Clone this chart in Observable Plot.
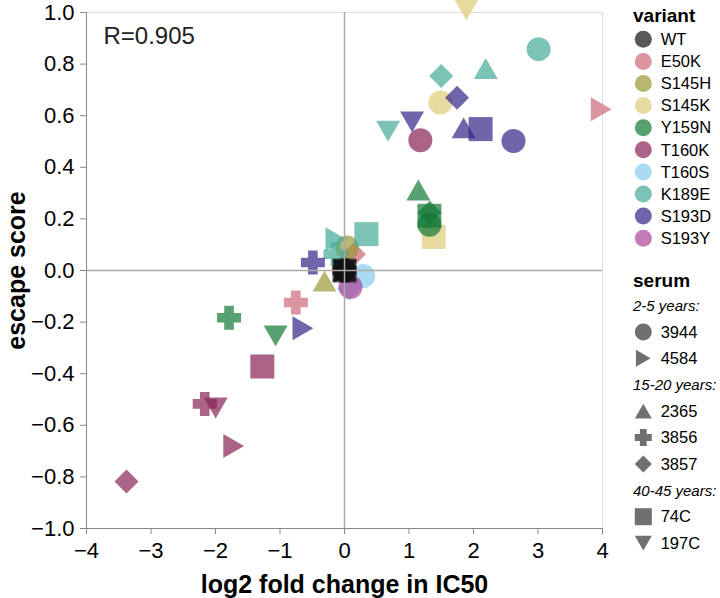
<!DOCTYPE html>
<html>
<head>
<meta charset="utf-8">
<script src="https://cdn.jsdelivr.net/npm/d3@7"></script>
<script src="https://cdn.jsdelivr.net/npm/@observablehq/plot@0.6"></script>
<style>
body { margin: 0; background: #fff; font-family: "Liberation Sans", Arial, Helvetica, sans-serif; }
#wrap { position: relative; width: 720px; height: 598px; }
#chart { position: absolute; left: 0; top: 0; }
#legend { position: absolute; left: 620px; top: 0; }
</style>
</head>
<body>
<div id="wrap"><div id="chart"></div><div id="legend"></div></div>
<script>
// variants (colour) and sera (shape)
const variants = ["WT", "E50K", "S145H", "S145K", "Y159N", "T160K", "T160S", "K189E", "S193D", "S193Y"];
const variantColors = ["#111111", "#CC6677", "#999933", "#DDCC77", "#117733", "#882255", "#88CCEE", "#44AA99", "#332288", "#AA4499"];
const sera = ["3944", "4584", "2365", "3856", "3857", "74C", "197C"];
const serumGroups = [
  ["2-5 years:", ["3944", "4584"]],
  ["15-20 years:", ["2365", "3856", "3857"]],
  ["40-45 years:", ["74C", "197C"]],
];

// [serum, log2 fold change in IC50, escape score] per variant
const ptsWT = [["3944", 0, 0], ["4584", 0, 0], ["2365", 0, 0], ["3856", 0, 0], ["3857", 0, 0], ["74C", 0, 0], ["197C", 0, 0]];
const ptsE50K = [["3857", 0.145, 0.063], ["3856", -0.754, -0.124], ["4584", 3.98, 0.625]];
const ptsS145H = [["3944", 0.04, 0.089], ["2365", -0.31, -0.041]];
const ptsS145K = [["197C", 1.89, 1.01], ["3944", 1.486, 0.651], ["74C", 1.383, 0.130]];
const ptsY159N = [["2365", 1.145, 0.312], ["74C", 1.316, 0.212], ["3857", 1.32, 0.224], ["3944", 1.316, 0.177], ["3856", -1.79, -0.183], ["197C", -1.068, -0.253]];
const ptsT160K = [["3944", 1.176, 0.505], ["74C", -1.274, -0.372], ["3856", -2.167, -0.517], ["197C", -1.997, -0.533], ["4584", -1.718, -0.680], ["3857", -3.38, -0.818]];
const ptsT160S = [["3944", 0.29, -0.021], ["3857", 0.067, -0.071]];
const ptsK189E = [["3944", 3.01, 0.858], ["2365", 2.19, 0.783], ["3857", 1.50, 0.754], ["197C", 0.676, 0.540], ["74C", 0.34, 0.141], ["3856", -0.14, 0.063], ["4584", -0.134, 0.121]];
const ptsS193D = [["3857", 1.745, 0.670], ["197C", 1.048, 0.576], ["2365", 1.847, 0.553], ["74C", 2.11, 0.548], ["3944", 2.62, 0.502], ["3856", -0.49, 0.031], ["4584", -0.645, -0.224]];
const ptsS193Y = [["3944", 0.093, -0.064]];

const xTicks = [-4, -3, -2, -1, 0, 1, 2, 3, 4];
const yTicks = [-1, -0.8, -0.6, -0.4, -0.2, 0, 0.2, 0.4, 0.6, 0.8, 1];
const xDomain = [-4, 4];
const yDomain = [-1, 1];
const rLabel = "R=0.905";

// vega-style symbol shapes; Plot hands over size = pi * r^2
const rad = size => Math.sqrt(size / Math.PI);
const sqrt3 = Math.sqrt(3);
const circle = {draw(c, size) { const r = rad(size); c.moveTo(r, 0); c.arc(0, 0, r, 0, 2 * Math.PI); c.closePath(); }};
const square = {draw(c, size) { const r = rad(size); c.rect(-r, -r, 2 * r, 2 * r); }};
const diamond = {draw(c, size) { const r = rad(size); c.moveTo(-r, 0); c.lineTo(0, -r); c.lineTo(r, 0); c.lineTo(0, r); c.closePath(); }};
const triUp = {draw(c, size) { const r = rad(size), h = sqrt3 * r / 2; c.moveTo(0, -h); c.lineTo(-r, h); c.lineTo(r, h); c.closePath(); }};
const triDown = {draw(c, size) { const r = rad(size), h = sqrt3 * r / 2; c.moveTo(0, h); c.lineTo(-r, -h); c.lineTo(r, -h); c.closePath(); }};
const triRight = {draw(c, size) { const r = rad(size), h = sqrt3 * r / 2; c.moveTo(h, 0); c.lineTo(-h, -r); c.lineTo(-h, r); c.closePath(); }};
const cross = {draw(c, size) {
  const r = rad(size), s = r / 2.5;
  c.moveTo(-r, -s); c.lineTo(-r, s); c.lineTo(-s, s); c.lineTo(-s, r); c.lineTo(s, r); c.lineTo(s, s);
  c.lineTo(r, s); c.lineTo(r, -s); c.lineTo(s, -s); c.lineTo(s, -r); c.lineTo(-s, -r); c.lineTo(-s, -s); c.closePath();
}};
const serumSymbols = [circle, triRight, triUp, cross, diamond, square, triDown];

// WT drawn last so it sits on top
const drawOrder = [ptsE50K, ptsS145H, ptsS145K, ptsY159N, ptsT160K, ptsT160S, ptsK189E, ptsS193D, ptsS193Y, ptsWT];
const drawNames = ["E50K", "S145H", "S145K", "Y159N", "T160K", "T160S", "K189E", "S193D", "S193Y", "WT"];
const rows = drawOrder.flatMap((pts, i) => pts.map(([serum, fc, es]) => ({variant: drawNames[i], serum, fc, es})));

const font = "'Liberation Sans', Arial, Helvetica, sans-serif";
const fmtX = d3.format("d");
const fmtY = d3.format(".1f");

const chart = Plot.plot({
  width: 620,
  height: 598,
  marginLeft: 86,
  marginRight: 18,
  marginTop: 12,
  marginBottom: 70,
  style: {fontFamily: font, background: "white", overflow: "visible"},
  x: {domain: xDomain},
  y: {domain: yDomain},
  color: {domain: variants, range: variantColors},
  symbol: {domain: sera, range: serumSymbols},
  marks: [
    Plot.frame({stroke: "#ddd"}),
    Plot.dot(rows, {
      x: "fc",
      y: "es",
      fill: "variant",
      symbol: "serum",
      r: 12,
      fillOpacity: 0.7,
      stroke: null,
    }),
    Plot.ruleX([0], {stroke: "#aaa", strokeWidth: 1.5}),
    Plot.ruleY([0], {stroke: "#aaa", strokeWidth: 1.5}),
    Plot.ruleX([xDomain[0]], {stroke: "#888"}),
    Plot.ruleY([yDomain[0]], {stroke: "#888"}),
    // tick marks only; labels drawn as text below so the font size sticks
    Plot.axisX({ticks: xTicks, tickFormat: () => "", tickSize: 6, stroke: "#888", label: null}),
    Plot.axisY({ticks: yTicks, tickFormat: () => "", tickSize: 6, stroke: "#888", label: null}),
    Plot.text(xTicks, {
      x: d => d,
      y: yDomain[0],
      text: d => fmtX(d),
      lineAnchor: "top",
      dy: 14,
      fontSize: 22,
      fill: "black",
    }),
    Plot.text(yTicks, {
      x: xDomain[0],
      y: d => d,
      text: d => fmtY(d),
      textAnchor: "end",
      lineAnchor: "middle",
      dx: -12,
      fontSize: 22,
      fill: "black",
    }),
    Plot.text([rLabel], {
      frameAnchor: "top-left",
      textAnchor: "start",
      lineAnchor: "top",
      dx: 17,
      dy: 14,
      fontSize: 24,
      fill: "#222",
    }),
    Plot.text(["log2 fold change in IC50"], {
      frameAnchor: "bottom",
      lineAnchor: "bottom",
      dy: 64,
      fontSize: 25,
      fontWeight: "bold",
    }),
    Plot.text(["escape score"], {
      frameAnchor: "left",
      textAnchor: "middle",
      lineAnchor: "bottom",
      rotate: -90,
      dx: -62,
      fontSize: 25,
      fontWeight: "bold",
    }),
  ]
});
document.getElementById("chart").appendChild(chart);

// legend
const leg = d3.select("#legend").append("svg")
  .attr("width", 100)
  .attr("height", 598)
  .style("font-family", font);

const symX = 23.3, txtX = 40.7, symR = 8.5;
const symPath = t => d3.symbol(t, Math.PI * symR * symR)();

leg.append("text").attr("x", 13).attr("y", 21.7)
  .attr("font-size", 19).attr("font-weight", "bold").text("variant");
variants.forEach((v, i) => {
  const y = 39.3 + i * 22.1;
  leg.append("path").attr("transform", `translate(${symX},${y})`)
    .attr("d", symPath(circle)).attr("fill", variantColors[i]).attr("fill-opacity", 0.7);
  leg.append("text").attr("x", txtX).attr("y", y).attr("dy", "0.35em")
    .attr("font-size", 16.5).text(v);
});

leg.append("text").attr("x", 13).attr("y", 286.7)
  .attr("font-size", 19).attr("font-weight", "bold").text("serum");
let k = 0;
serumGroups.forEach(([label, members]) => {
  leg.append("text").attr("x", 13).attr("y", 305.5 + k * 26.4).attr("dy", "0.35em")
    .attr("font-size", 15).attr("font-style", "italic").text(label);
  k++;
  members.forEach(s => {
    const y = 305.5 + k * 26.4;
    leg.append("path").attr("transform", `translate(${symX},${y})`)
      .attr("d", symPath(serumSymbols[sera.indexOf(s)])).attr("fill", "#333").attr("fill-opacity", 0.7);
    leg.append("text").attr("x", txtX).attr("y", y).attr("dy", "0.35em")
      .attr("font-size", 16.5).text(s);
    k++;
  });
});
</script>
</body>
</html>
